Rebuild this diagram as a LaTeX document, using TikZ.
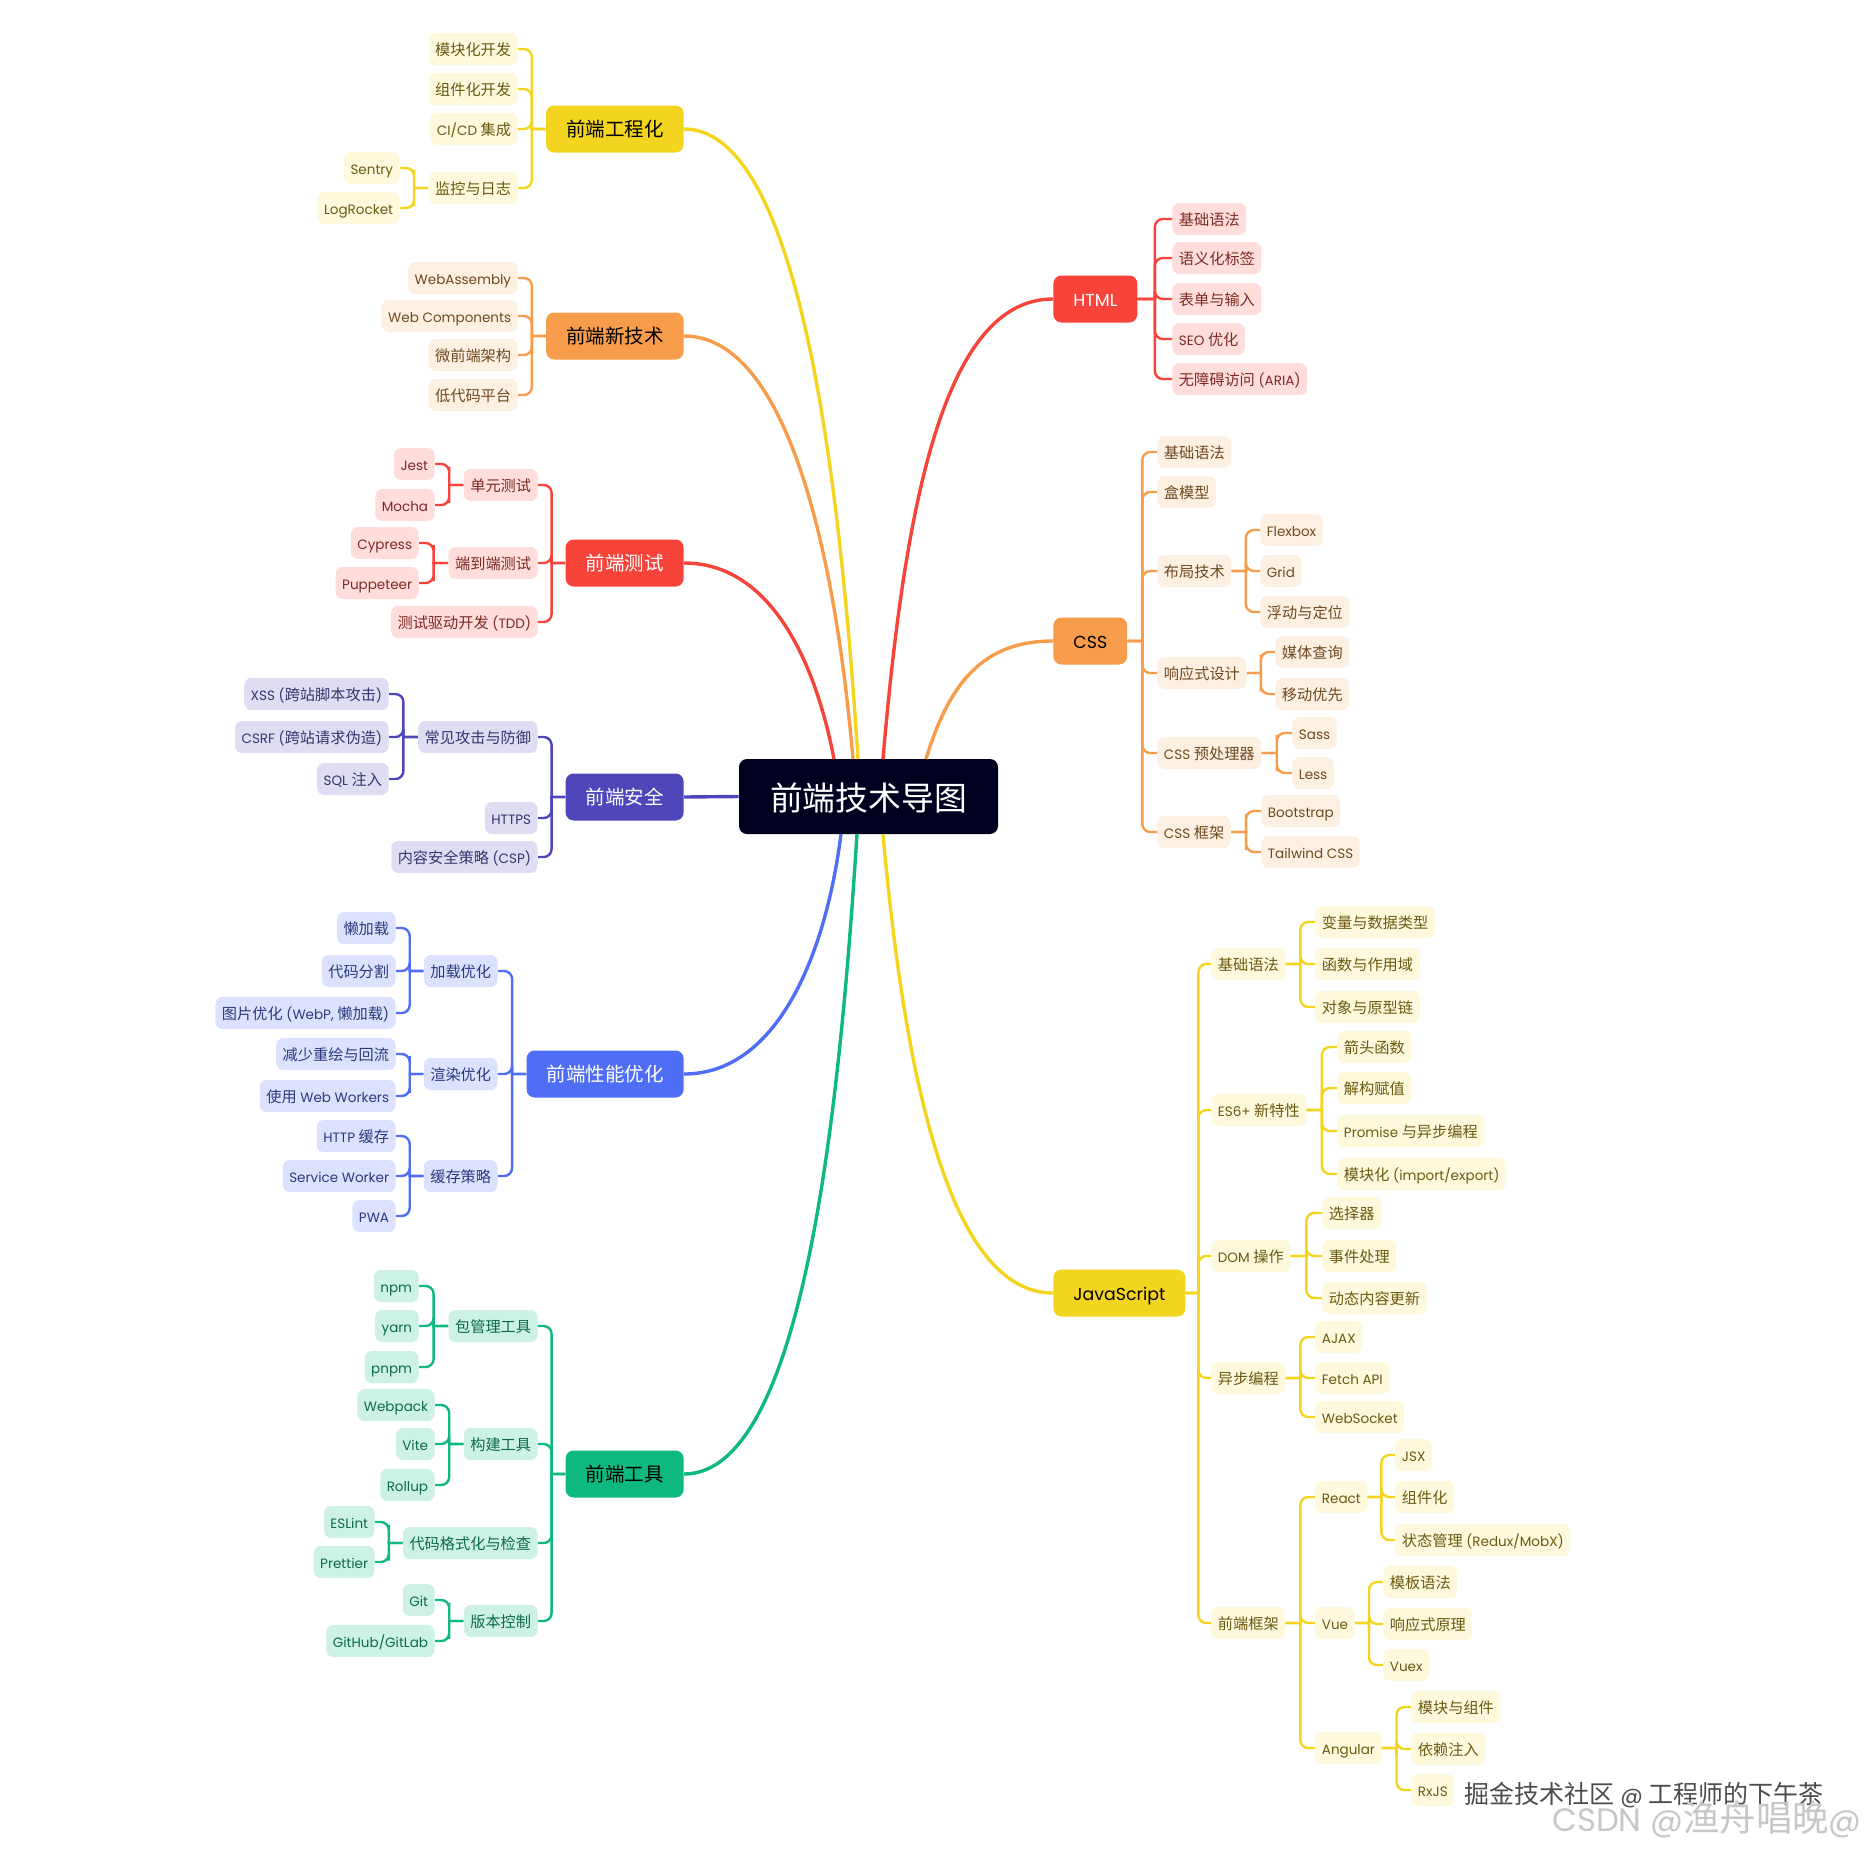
\documentclass[tikz,border=0pt]{standalone}
\usepackage{fontspec}
\setmainfont[Scale=0.89]{Poppins}
\newfontfamily\zhfont{Noto Sans CJK SC}
\usetikzlibrary{calc}
\newcommand\zh[1]{{\zhfont #1}}
\definecolor{ymain}{HTML}{F3D41E}
\definecolor{ylight}{HTML}{FEF8DC}
\definecolor{ydark}{HTML}{6B5A12}
\definecolor{omain}{HTML}{F69C4B}
\definecolor{olight}{HTML}{FDEFE2}
\definecolor{odark}{HTML}{6E4A20}
\definecolor{rmain}{HTML}{F7433A}
\definecolor{rlight}{HTML}{FEDDDA}
\definecolor{rdark}{HTML}{7C2A24}
\definecolor{imain}{HTML}{4F46BA}
\definecolor{ilight}{HTML}{DEDDF2}
\definecolor{idark}{HTML}{383470}
\definecolor{bmain}{HTML}{4F6EF5}
\definecolor{blight}{HTML}{DCE2FD}
\definecolor{bdark}{HTML}{2B3A80}
\definecolor{gmain}{HTML}{0DB97C}
\definecolor{glight}{HTML}{CDF2E5}
\definecolor{gdark}{HTML}{0B6A4E}
\definecolor{rootfill}{HTML}{00001F}
\tikzstyle{lf}=[anchor=east]
\tikzstyle{rt}=[anchor=west]
\tikzstyle{leaf}=[rounded corners=3.5pt,inner xsep=3.25pt,inner ysep=0pt,minimum height=16pt,text height=6.2pt,text depth=.2pt,font=\fontsize{7.6}{9}\selectfont]
\tikzstyle{topic}=[rounded corners=4pt,inner xsep=10pt,inner ysep=0pt,minimum height=23.5pt,text height=8.6pt,text depth=.8pt,font=\fontsize{9.75}{11}\selectfont]
\tikzstyle{yleaf}=[leaf,fill=ylight,text=ydark]
\tikzstyle{oleaf}=[leaf,fill=olight,text=odark]
\tikzstyle{rleaf}=[leaf,fill=rlight,text=rdark]
\tikzstyle{ileaf}=[leaf,fill=ilight,text=idark]
\tikzstyle{bleaf}=[leaf,fill=blight,text=bdark]
\tikzstyle{gleaf}=[leaf,fill=glight,text=gdark]
\tikzstyle{stem}=[line width=1.7pt]
\tikzstyle{twig}=[line width=1.2pt,rounded corners=4pt]
\tikzset{elbow/.style={to path={-| ($(\tikztostart)!.5!(\tikztotarget)$) [sharp corners] |- (\tikztotarget)}}}

\begin{document}
\begin{tikzpicture}[x=.5pt,y=-.5pt]
	\useasboundingbox (0,0) rectangle (1867,1852);

	\node[fill=rootfill,text=white,rounded corners=4pt,minimum width=129.5pt,minimum height=37.5pt,inner sep=0pt,text height=15pt,text depth=.8pt,font=\fontsize{16.4}{18}\selectfont] (root) at (868.5,796.5) {\zh{前端技术导图}};
	\coordinate (rt-eng) at (858,759);
	\coordinate (rt-neo) at (853,759);
	\coordinate (rt-test) at (834,759);
	\coordinate (rt-perf) at (841,834);
	\coordinate (rt-tool) at (857,834);
	\coordinate (rt-html) at (883,759);
	\coordinate (rt-css) at (926,759);
	\coordinate (rt-js) at (883,834);

	% left side
	\node[topic,lf,fill=ymain,text=black] (eng) at (684,129) {\zh{前端工程化}};
	\node[yleaf,lf] (eng1) at (518,49) {\zh{模块化开发}};
	\node[yleaf,lf] (eng2) at (518,89) {\zh{组件化开发}};
	\node[yleaf,lf] (eng3) at (518,129) {CI/CD \zh{集成}};
	\node[yleaf,lf] (eng4) at (518,188) {\zh{监控与日志}};
	\node[yleaf,lf] (eng41) at (400,168) {Sentry};
	\node[yleaf,lf] (eng42) at (400,208) {LogRocket};

	\node[topic,lf,fill=omain,text=black] (neo) at (684,336) {\zh{前端新技术}};
	\node[oleaf,lf] (neo1) at (518,278) {WebAssembly};
	\node[oleaf,lf] (neo2) at (518,316) {Web Components};
	\node[oleaf,lf] (neo3) at (518,355) {\zh{微前端架构}};
	\node[oleaf,lf] (neo4) at (518,395) {\zh{低代码平台}};

	\node[topic,lf,fill=rmain,text=white] (test) at (684,563) {\zh{前端测试}};
	\node[rleaf,lf] (test1) at (538,485) {\zh{单元测试}};
	\node[rleaf,lf] (test2) at (538,563) {\zh{端到端测试}};
	\node[rleaf,lf] (test3) at (538,622) {\zh{测试驱动开发} (TDD)};
	\node[rleaf,lf] (test11) at (435,464) {Jest};
	\node[rleaf,lf] (test12) at (435,505) {Mocha};
	\node[rleaf,lf] (test21) at (419,543) {Cypress};
	\node[rleaf,lf] (test22) at (419,583) {Puppeteer};

	\node[topic,lf,fill=imain,text=white] (sec) at (684,797) {\zh{前端安全}};
	\node[ileaf,lf] (sec1) at (538,737) {\zh{常见攻击与防御}};
	\node[ileaf,lf] (sec2) at (538,818) {HTTPS};
	\node[ileaf,lf] (sec3) at (538,857) {\zh{内容安全策略} (CSP)};
	\node[ileaf,lf] (sec11) at (389,694) {XSS (\zh{跨站脚本攻击})};
	\node[ileaf,lf] (sec12) at (389,737) {CSRF (\zh{跨站请求伪造})};
	\node[ileaf,lf] (sec13) at (389,779) {SQL \zh{注入}};

	\node[topic,lf,fill=bmain,text=white] (perf) at (684,1074) {\zh{前端性能优化}};
	\node[bleaf,lf] (perf1) at (498,971) {\zh{加载优化}};
	\node[bleaf,lf] (perf2) at (498,1074) {\zh{渲染优化}};
	\node[bleaf,lf] (perf3) at (498,1176) {\zh{缓存策略}};
	\node[bleaf,lf] (perf11) at (396,928) {\zh{懒加载}};
	\node[bleaf,lf] (perf12) at (396,971) {\zh{代码分割}};
	\node[bleaf,lf] (perf13) at (396,1013) {\zh{图片优化} (WebP, \zh{懒加载})};
	\node[bleaf,lf] (perf21) at (396,1054) {\zh{减少重绘与回流}};
	\node[bleaf,lf] (perf22) at (396,1096) {\zh{使用} Web Workers};
	\node[bleaf,lf] (perf31) at (396,1136) {HTTP \zh{缓存}};
	\node[bleaf,lf] (perf32) at (396,1176) {Service Worker};
	\node[bleaf,lf] (perf33) at (396,1216) {PWA};

	\node[topic,lf,fill=gmain,text=black] (tool) at (684,1474) {\zh{前端工具}};
	\node[gleaf,lf] (tool1) at (538,1326) {\zh{包管理工具}};
	\node[gleaf,lf] (tool2) at (538,1444) {\zh{构建工具}};
	\node[gleaf,lf] (tool3) at (538,1543) {\zh{代码格式化与检查}};
	\node[gleaf,lf] (tool4) at (538,1621) {\zh{版本控制}};
	\node[gleaf,lf] (tool11) at (419,1286) {npm};
	\node[gleaf,lf] (tool12) at (419,1326) {yarn};
	\node[gleaf,lf] (tool13) at (419,1367) {pnpm};
	\node[gleaf,lf] (tool21) at (435,1405) {Webpack};
	\node[gleaf,lf] (tool22) at (435,1444) {Vite};
	\node[gleaf,lf] (tool23) at (435,1485) {Rollup};
	\node[gleaf,lf] (tool31) at (375,1522) {ESLint};
	\node[gleaf,lf] (tool32) at (375,1562) {Prettier};
	\node[gleaf,lf] (tool41) at (435,1600) {Git};
	\node[gleaf,lf] (tool42) at (435,1641) {GitHub/GitLab};

	% right side
	\node[topic,rt,fill=rmain,text=white] (html) at (1053,299) {HTML};
	\node[rleaf,rt] (html1) at (1172,219) {\zh{基础语法}};
	\node[rleaf,rt] (html2) at (1172,258) {\zh{语义化标签}};
	\node[rleaf,rt] (html3) at (1172,299) {\zh{表单与输入}};
	\node[rleaf,rt] (html4) at (1172,339) {SEO \zh{优化}};
	\node[rleaf,rt] (html5) at (1172,379) {\zh{无障碍访问} (ARIA)};

	\node[topic,rt,fill=omain,text=black] (css) at (1053,641) {CSS};
	\node[oleaf,rt] (css1) at (1157,452) {\zh{基础语法}};
	\node[oleaf,rt] (css2) at (1157,492) {\zh{盒模型}};
	\node[oleaf,rt] (css3) at (1157,571) {\zh{布局技术}};
	\node[oleaf,rt] (css4) at (1157,673) {\zh{响应式设计}};
	\node[oleaf,rt] (css5) at (1157,753) {CSS \zh{预处理器}};
	\node[oleaf,rt] (css6) at (1157,832) {CSS \zh{框架}};
	\node[oleaf,rt] (css31) at (1260,530) {Flexbox};
	\node[oleaf,rt] (css32) at (1260,571) {Grid};
	\node[oleaf,rt] (css33) at (1260,612) {\zh{浮动与定位}};
	\node[oleaf,rt] (css41) at (1275,652) {\zh{媒体查询}};
	\node[oleaf,rt] (css42) at (1275,694) {\zh{移动优先}};
	\node[oleaf,rt] (css51) at (1292,733) {Sass};
	\node[oleaf,rt] (css52) at (1292,773) {Less};
	\node[oleaf,rt] (css61) at (1261,811) {Bootstrap};
	\node[oleaf,rt] (css62) at (1261,852) {Tailwind CSS};

	\node[topic,rt,fill=ymain,text=black] (js) at (1053,1293) {JavaScript};
	\node[yleaf,rt] (js1) at (1211,964) {\zh{基础语法}};
	\node[yleaf,rt] (js2) at (1211,1110) {ES6+ \zh{新特性}};
	\node[yleaf,rt] (js3) at (1211,1256) {DOM \zh{操作}};
	\node[yleaf,rt] (js4) at (1211,1378) {\zh{异步编程}};
	\node[yleaf,rt] (js5) at (1211,1623) {\zh{前端框架}};
	\node[yleaf,rt] (js11) at (1315,922) {\zh{变量与数据类型}};
	\node[yleaf,rt] (js12) at (1315,964) {\zh{函数与作用域}};
	\node[yleaf,rt] (js13) at (1315,1007) {\zh{对象与原型链}};
	\node[yleaf,rt] (js21) at (1337,1047) {\zh{箭头函数}};
	\node[yleaf,rt] (js22) at (1337,1088) {\zh{解构赋值}};
	\node[yleaf,rt] (js23) at (1337,1131) {Promise \zh{与异步编程}};
	\node[yleaf,rt] (js24) at (1337,1174) {\zh{模块化} (import/export)};
	\node[yleaf,rt] (js31) at (1322,1213) {\zh{选择器}};
	\node[yleaf,rt] (js32) at (1322,1256) {\zh{事件处理}};
	\node[yleaf,rt] (js33) at (1322,1298) {\zh{动态内容更新}};
	\node[yleaf,rt] (js41) at (1315,1337) {AJAX};
	\node[yleaf,rt] (js42) at (1315,1378) {Fetch API};
	\node[yleaf,rt] (js43) at (1315,1417) {WebSocket};
	\node[yleaf,rt] (js51) at (1315,1497) {React};
	\node[yleaf,rt] (js52) at (1315,1623) {Vue};
	\node[yleaf,rt] (js53) at (1315,1748) {Angular};
	\node[yleaf,rt] (js511) at (1395,1455) {JSX};
	\node[yleaf,rt] (js512) at (1395,1497) {\zh{组件化}};
	\node[yleaf,rt] (js513) at (1395,1540) {\zh{状态管理} (Redux/MobX)};
	\node[yleaf,rt] (js521) at (1383,1582) {\zh{模板语法}};
	\node[yleaf,rt] (js522) at (1383,1624) {\zh{响应式原理}};
	\node[yleaf,rt] (js523) at (1383,1665) {Vuex};
	\node[yleaf,rt] (js531) at (1411,1707) {\zh{模块与组件}};
	\node[yleaf,rt] (js532) at (1411,1749) {\zh{依赖注入}};
	\node[yleaf,rt] (js533) at (1411,1790) {RxJS};

	% stems from the root
	\draw[stem,ymain] (eng.east) .. controls (800,129) and (840,480) .. (rt-eng);
	\draw[stem,omain] (neo.east) .. controls (784,336) and (834,540) .. (rt-neo);
	\draw[stem,rmain] (test.east) .. controls (770,563) and (815,660) .. (rt-test);
	\draw[stem,imain] (sec.east) -- (root.west);
	\draw[stem,bmain] (perf.east) .. controls (775,1074) and (825,960) .. (rt-perf);
	\draw[stem,gmain] (tool.east) .. controls (805,1474) and (840,1100) .. (rt-tool);
	\draw[stem,rmain] (html.west) .. controls (945,299) and (905,500) .. (rt-html);
	\draw[stem,omain] (css.west) .. controls (985,641) and (950,680) .. (rt-css);
	\draw[stem,ymain] (js.west) .. controls (950,1293) and (905,1080) .. (rt-js);

	% twigs
	\foreach \kid/\up in {eng1/eng,eng2/eng,eng3/eng,eng4/eng,eng41/eng4,eng42/eng4}
		\draw[twig,ymain] (\kid.east) to[elbow] (\up.west);
	\foreach \kid/\up in {neo1/neo,neo2/neo,neo3/neo,neo4/neo}
		\draw[twig,omain] (\kid.east) to[elbow] (\up.west);
	\foreach \kid/\up in {test1/test,test2/test,test3/test,test11/test1,test12/test1,test21/test2,test22/test2}
		\draw[twig,rmain] (\kid.east) to[elbow] (\up.west);
	\foreach \kid/\up in {sec1/sec,sec2/sec,sec3/sec,sec11/sec1,sec12/sec1,sec13/sec1}
		\draw[twig,imain] (\kid.east) to[elbow] (\up.west);
	\foreach \kid/\up in {perf1/perf,perf2/perf,perf3/perf,perf11/perf1,perf12/perf1,perf13/perf1,perf21/perf2,perf22/perf2,perf31/perf3,perf32/perf3,perf33/perf3}
		\draw[twig,bmain] (\kid.east) to[elbow] (\up.west);
	\foreach \kid/\up in {tool1/tool,tool2/tool,tool3/tool,tool4/tool,tool11/tool1,tool12/tool1,tool13/tool1,tool21/tool2,tool22/tool2,tool23/tool2,tool31/tool3,tool32/tool3,tool41/tool4,tool42/tool4}
		\draw[twig,gmain] (\kid.east) to[elbow] (\up.west);
	\foreach \kid/\up in {html1/html,html2/html,html3/html,html4/html,html5/html}
		\draw[twig,rmain] (\kid.west) to[elbow] (\up.east);
	\foreach \kid/\up in {css1/css,css2/css,css3/css,css4/css,css5/css,css6/css,css31/css3,css32/css3,css33/css3,css41/css4,css42/css4,css51/css5,css52/css5,css61/css6,css62/css6}
		\draw[twig,omain] (\kid.west) to[elbow] (\up.east);
	\foreach \kid/\up in {js1/js,js2/js,js3/js,js4/js,js5/js,js11/js1,js12/js1,js13/js1,js21/js2,js22/js2,js23/js2,js24/js2,js31/js3,js32/js3,js33/js3,js41/js4,js42/js4,js43/js4,js51/js5,js52/js5,js53/js5,js511/js51,js512/js51,js513/js51,js521/js52,js522/js52,js523/js52,js531/js53,js532/js53,js533/js53}
		\draw[twig,ymain] (\kid.west) to[elbow] (\up.east);

	\node[text=black!70,anchor=west,inner sep=0pt,font=\fontsize{12.5}{14}\selectfont] (mark1) at (1464,1795) {\zh{掘金技术社区} @ \zh{工程师的下午茶}};
	\node[text=black!22,anchor=east,inner sep=0pt,font=\fontsize{18.2}{20}\selectfont] (mark2) at (1862,1819) {CSDN @\zh{渔舟唱晚}@};
\end{tikzpicture}
\end{document}
